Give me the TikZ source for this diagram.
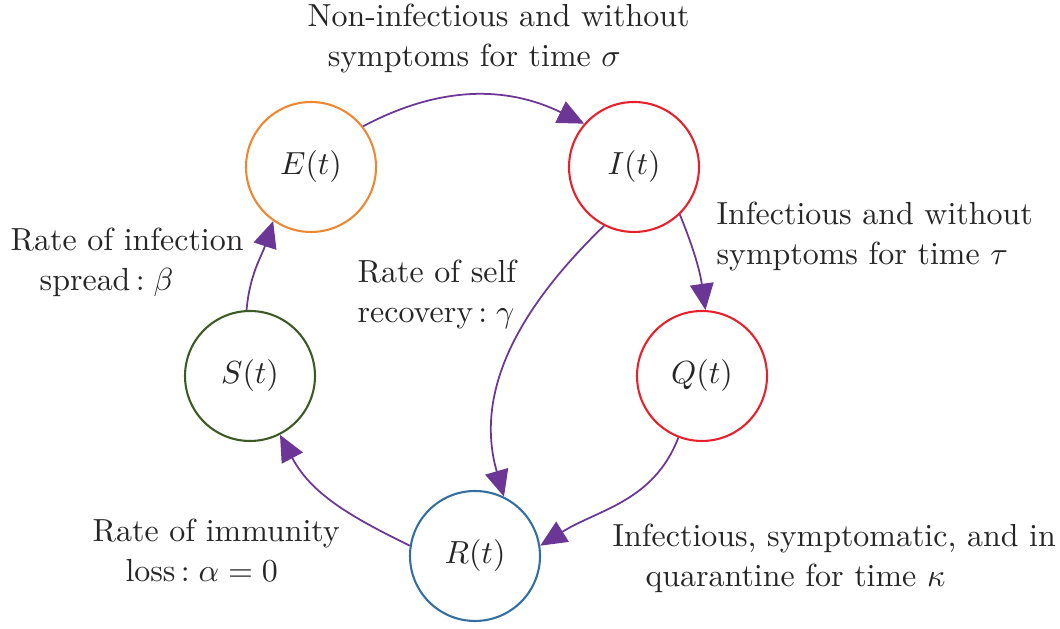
\documentclass[tikz,border=0pt]{standalone}
\usepackage{tikz}
\usetikzlibrary{arrows.meta}
\usepackage{xcolor}
\definecolor{flowpurple}{HTML}{6C3696}
\definecolor{exposedorange}{HTML}{EE8732}
\definecolor{infectred}{HTML}{E8202A}
\definecolor{suscgreen}{HTML}{3C5A23}
\definecolor{recblue}{HTML}{336EA0}
\definecolor{inkgray}{HTML}{262626}
\tikzset{
  compartment/.style={circle,draw,line width=0.65pt,minimum size=1.43cm,inner sep=0pt,text=inkgray},
  flow/.style={-{Triangle[length=0.29cm,width=0.26cm]},flowpurple,line width=0.55pt},
  note/.style={align=left,inner sep=0pt,anchor=north west,text=inkgray,font=\fontsize{10}{12.5}\selectfont}
}

\begin{document}
\begin{tikzpicture}[x=0.011cm,y=0.011cm]
  \useasboundingbox (0,0) rectangle (1060,629);

  % Compartments
  \node[compartment,draw=exposedorange] (E) at (311,462) {$E(t)$};
  \node[compartment,draw=infectred] (I) at (634,462) {$I(t)$};
  \node[compartment,draw=suscgreen] (S) at (250,253) {$S(t)$};
  \node[compartment,draw=infectred] (Q) at (702,253) {$Q(t)$};
  \node[compartment,draw=recblue] (R) at (475,73) {$R(t)$};

  % Flows
  \draw[flow] (E.38) to[out=28,in=154] (I.139);
  \draw[flow] (I.-46) to[out=-68,in=98] (Q.87);
  \draw[flow] (I.243) to[out=-136,in=106] (R.64);
  \draw[flow] (Q.-111) to[out=-111,in=32] (R.9);
  \draw[flow] (R.171) to[out=154,in=-62] (S.-63);
  \draw[flow] (S.93) to[out=85,in=-108] (E.-125);

  % Labels
  \node[note] (sigma) at (307,626) {Non-infectious and without\\\hspace*{6.3pt}symptoms for time $\sigma$};
  \node[note] (tau) at (716,428) {Infectious and without\\symptoms for time $\tau$};
  \node[note] (beta) at (10,402) {Rate of infection\\\hspace*{9.1pt}spread\,$:\beta$};
  \node[note] (gamma) at (357,370) {Rate of self\\recovery\,$:\gamma$};
  \node[note] (alpha) at (92,111) {Rate of immunity\\\hspace*{10.3pt}loss\,$:\alpha=0$};
  \node[note] (kappa) at (612,106) {Infectious, symptomatic, and in\\\hspace*{10.3pt}quarantine for time $\kappa$};
\end{tikzpicture}
\end{document}
